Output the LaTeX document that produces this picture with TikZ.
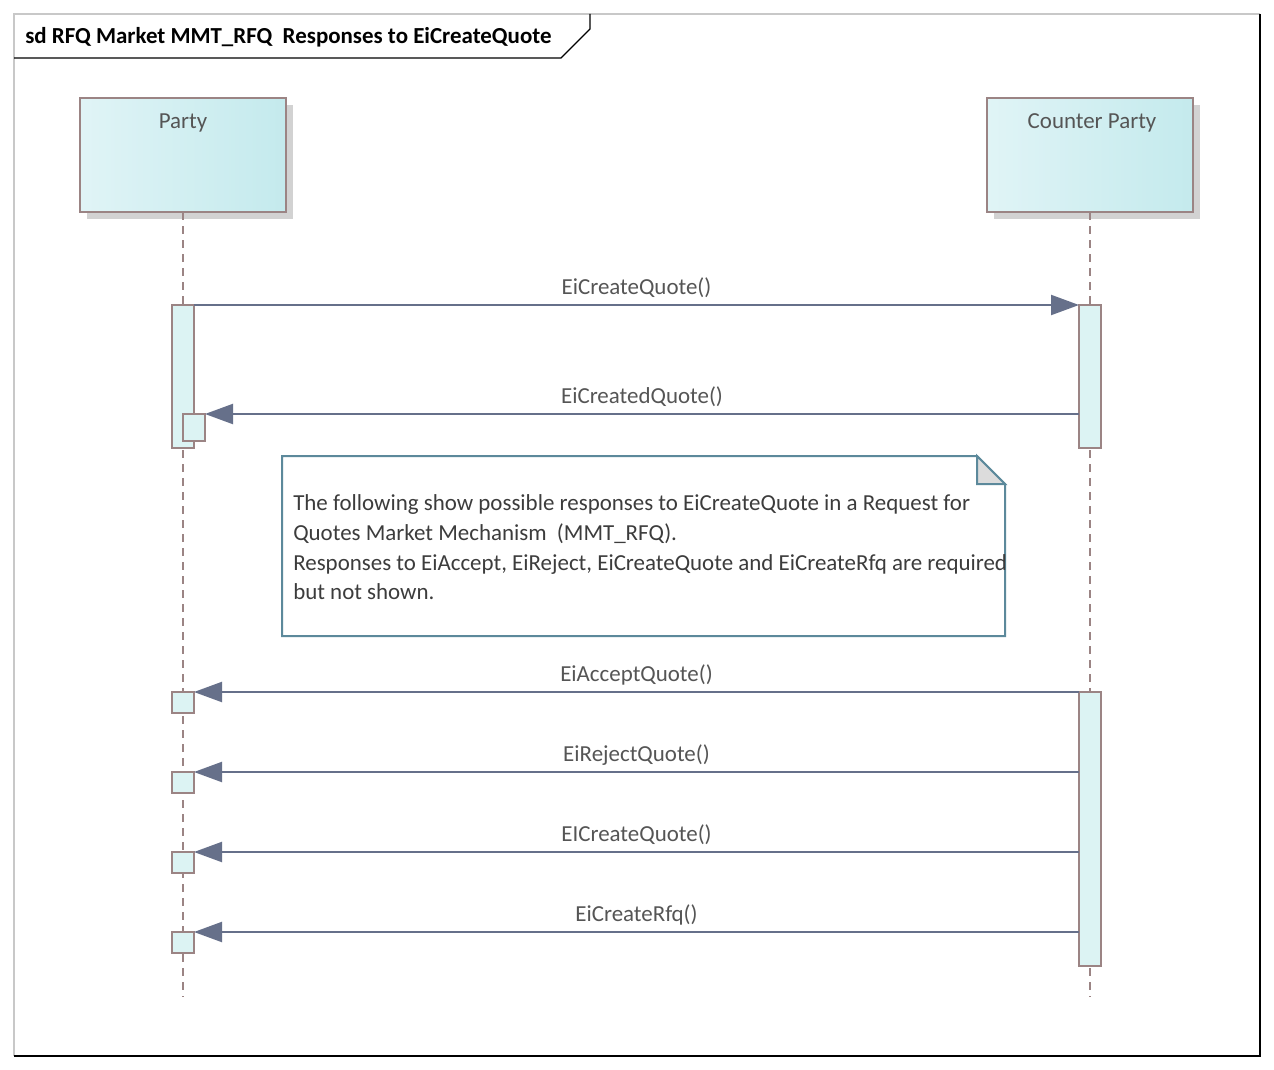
\documentclass[tikz,border=0pt]{standalone}
\usepackage{fontspec}
\setmainfont{Carlito}
\usetikzlibrary{arrows.meta,shadows}
\definecolor{framegray}{RGB}{200,200,200}
\definecolor{lbord}{RGB}{155,132,132}
\definecolor{headL}{RGB}{224,244,246}
\definecolor{headR}{RGB}{196,234,237}
\definecolor{shadowgray}{RGB}{210,210,210}
\definecolor{actfill}{RGB}{220,243,243}
\definecolor{msgcol}{RGB}{102,112,138}
\definecolor{txtgray}{RGB}{85,85,85}
\definecolor{notecol}{RGB}{92,137,155}
\definecolor{foldfill}{RGB}{220,220,220}
\definecolor{notetxt}{RGB}{60,60,60}
\tikzset{
  head/.style={draw=lbord, line width=1.6pt, left color=headL, right color=headR,
    minimum width=154.5pt, minimum height=85.5pt, inner sep=0pt, outer sep=0pt,
    drop shadow={shadow xshift=5.25pt, shadow yshift=-5.25pt, fill=shadowgray, opacity=1}},
  headtxt/.style={anchor=base, text=txtgray, font=\fontsize{17.2}{20}\selectfont, inner sep=0pt},
  life/.style={draw=lbord, line width=1.6pt, dash pattern=on 6pt off 4.5pt},
  act/.style={draw=lbord, fill=actfill, line width=1.6pt, minimum width=16.5pt,
    inner sep=0pt, outer sep=0pt, anchor=north west},
  msg/.style={draw=msgcol, line width=1.6pt, -{Triangle[length=21pt,width=15pt]}},
  lbl/.style={midway, anchor=base, yshift=7.8pt, inner sep=0pt, text=txtgray,
    font=\fontsize{17.2}{20}\selectfont},
  notetext/.style={anchor=base west, inner sep=0pt, text=notetxt,
    font=\fontsize{17.2}{20}\selectfont}
}
\begin{document}
\begin{tikzpicture}[x=0.75pt,y=-0.75pt]
\useasboundingbox[fill=white] (0,0) rectangle (1274,1070);
% frame
\draw[framegray, line width=1pt] (14,1056) -- (14,14) -- (1260,14);
\draw[black, line width=1.3pt] (1260,14) -- (1260,1056) -- (14,1056);
\draw[black, line width=1pt] (14,58) -- (561,58) -- (590,29) -- (590,14);
\node[anchor=base west, inner sep=0pt, font=\bfseries\fontsize{17.2}{20}\selectfont] (title) at (25,44)
  {sd RFQ Market MMT\_RFQ\ \ Responses to EiCreateQuote};
% lifeline heads
\node[head] (ph) at (183,155) {};
\node[head] (ch) at (1090,155) {};
\node[headtxt] (phl) at (183,129) {Party};
\node[headtxt] (chl) at (1092,129) {Counter Party};
% lifelines
\coordinate (pend) at (183,997);
\coordinate (cend) at (1090,997);
\draw[life] (ph.south) -- (pend);
\draw[life] (ch.south) -- (cend);
% activations
\node[act, minimum height=107.25pt] (pa1) at (172,305) {};
\node[act, minimum height=20.25pt] (pa2) at (183,414) {};
\node[act, minimum height=107.25pt] (ca1) at (1079,305) {};
\node[act, minimum height=205.5pt] (ca2) at (1079,692) {};
\node[act, minimum height=15.75pt] (pb1) at (172,692) {};
\node[act, minimum height=15.75pt] (pb2) at (172,772) {};
\node[act, minimum height=15.75pt] (pb3) at (172,852) {};
\node[act, minimum height=15.75pt] (pb4) at (172,932) {};
% messages
\draw[msg] (pa1.north east) -- (ca1.north west) node[lbl] {EiCreateQuote()};
\draw[msg] (ca1.west |- pa2.north) -- (pa2.north east) node[lbl] {EiCreatedQuote()};
\draw[msg] (ca2.north west) -- (pb1.north east) node[lbl] {EiAcceptQuote()};
\draw[msg] (ca2.west |- pb2.north) -- (pb2.north east) node[lbl] {EiRejectQuote()};
\draw[msg] (ca2.west |- pb3.north) -- (pb3.north east) node[lbl] {EICreateQuote()};
\draw[msg] (ca2.west |- pb4.north) -- (pb4.north east) node[lbl] {EiCreateRfq()};
% note
\fill[white] (282,456) -- (977,456) -- (1005,484) -- (1005,636) -- (282,636) -- cycle;
\draw[notecol, line width=1.5pt, line join=miter] (282,456) -- (977,456) -- (1005,484) -- (1005,636) -- (282,636) -- cycle;
\draw[notecol, fill=foldfill, line width=1.5pt] (977,456) -- (977,484) -- (1005,484) -- cycle;
\node[notetext] (n1) at (293,510) {The following show possible responses to EiCreateQuote in a Request for};
\node[notetext] (n2) at (293,540) {Quotes Market Mechanism\ \ (MMT\_RFQ).};
\node[notetext] (n3) at (293,570) {Responses to EiAccept, EiReject, EiCreateQuote and EiCreateRfq are required};
\node[notetext] (n4) at (293,599) {but not shown.};
\end{tikzpicture}
\end{document}
